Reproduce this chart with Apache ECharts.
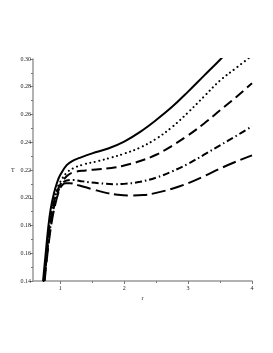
<!DOCTYPE html>
<html><head><meta charset="utf-8">
<script src="https://cdn.jsdelivr.net/npm/echarts@6/dist/echarts.min.js"></script>
<style>html,body{margin:0;padding:0;background:#fff}#c{width:273px;height:353px}</style>
</head><body><div id="c"></div>
<script>
var xTickLabels = [1, 2, 3, 4];
var xMinorTicks = [1.5, 2.5, 3.5];
var solid = [[0.73,0.14],[0.77,0.159],[0.81,0.178],[0.85,0.192],[0.9,0.203],[0.95,0.211],[1.0,0.2165],[1.1,0.2235],[1.2,0.2268],[1.3,0.2287],[1.5,0.232],[1.75,0.2355],[2.0,0.2405],[2.25,0.2475],[2.5,0.256],[2.75,0.2655],[3.0,0.2765],[3.25,0.288],[3.5,0.2995],[3.6,0.3045]];
var dotted = [[0.74,0.14],[0.78,0.159],[0.82,0.177],[0.86,0.19],[0.9,0.199],[0.95,0.2065],[1.0,0.2115],[1.1,0.218],[1.2,0.2212],[1.35,0.2238],[1.6,0.2265],[1.8,0.229],[2.0,0.2318],[2.25,0.2362],[2.5,0.2425],[2.75,0.251],[3.0,0.2615],[3.25,0.273],[3.5,0.2845],[3.75,0.2935],[4.0,0.3025]];
var dashed = [[0.745,0.14],[0.785,0.159],[0.825,0.176],[0.865,0.189],[0.9,0.197],[0.95,0.2045],[1.0,0.2095],[1.1,0.2155],[1.2,0.2183],[1.4,0.2197],[1.6,0.2205],[1.8,0.2215],[2.0,0.2232],[2.25,0.2265],[2.5,0.231],[2.75,0.2375],[3.0,0.245],[3.25,0.2535],[3.5,0.263],[3.75,0.2725],[4.0,0.2825]];
var dashDot = [[0.75,0.14],[0.79,0.158],[0.83,0.174],[0.87,0.186],[0.92,0.197],[0.97,0.205],[1.02,0.2098],[1.1,0.2125],[1.2,0.2128],[1.35,0.2118],[1.6,0.2105],[1.85,0.2098],[2.0,0.21],[2.25,0.2115],[2.5,0.2145],[2.75,0.219],[3.0,0.2245],[3.25,0.231],[3.5,0.2378],[3.75,0.2445],[4.0,0.2515]];
var longDash = [[0.755,0.14],[0.795,0.158],[0.835,0.173],[0.875,0.185],[0.92,0.195],[0.97,0.2035],[1.02,0.2085],[1.08,0.2105],[1.15,0.2105],[1.3,0.2088],[1.5,0.2062],[1.7,0.2037],[1.9,0.2022],[2.1,0.2016],[2.3,0.2019],[2.5,0.2035],[2.75,0.2065],[3.0,0.2105],[3.25,0.2155],[3.5,0.221],[3.75,0.226],[4.0,0.2305]];

var font = {fontFamily: 'Liberation Serif', fontSize: 6, color: '#222'};
var axisLine = {lineStyle: {color: '#999', width: 1.5}};
function ser(d, type, cap) {
  return {type: 'line', data: d, showSymbol: false, smooth: 0.4, xAxisIndex: 0,
    lineStyle: {color: '#000', width: 2, type: type, cap: cap || 'butt'}, animation: false};
}
var chart = echarts.init(document.getElementById('c'));
chart.setOption({
  animation: false,
  grid: {left: 33, right: 21, top: 59, bottom: 72},
  xAxis: [{
    type: 'value', min: 0.573, max: 4, name: 'r', nameLocation: 'middle', nameGap: 12,
    nameTextStyle: font, axisLine: axisLine, splitLine: {show: false},
    axisTick: {show: true, customValues: xTickLabels, length: 3, lineStyle: {color: '#777'}},
    axisLabel: Object.assign({customValues: xTickLabels, margin: 4}, font)
  }, {
    type: 'value', min: 0.573, max: 4, position: 'bottom', axisLine: {show: false}, splitLine: {show: false},
    axisTick: {show: true, customValues: xMinorTicks, length: 2, lineStyle: {color: '#777'}},
    axisLabel: {show: false}
  }],
  yAxis: {
    type: 'value', min: 0.14, max: 0.30, interval: 0.02, name: 'T', nameLocation: 'middle', nameRotate: 0, nameGap: 17,
    nameTextStyle: font, axisLine: axisLine, splitLine: {show: false},
    axisTick: {length: 3, lineStyle: {color: '#777'}},
    minorTick: {show: true, splitNumber: 2, length: 2, lineStyle: {color: '#777'}},
    axisLabel: Object.assign({margin: 2, formatter: function(v){return v.toFixed(2);}}, font)
  },
  series: [
    ser(solid, 'solid'),
    ser(dotted, [0.1, 4.5], 'round'),
    ser(dashed, [10, 5]),
    ser(dashDot, [7, 3, 1.5, 3]),
    ser(longDash, [14, 5])
  ]
});
</script></body></html>
